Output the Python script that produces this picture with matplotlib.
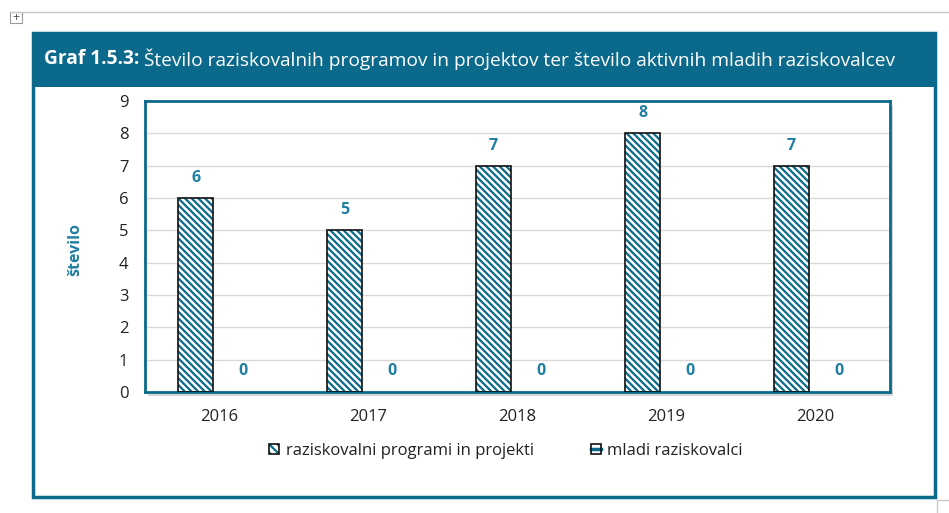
import matplotlib
matplotlib.use("Agg")
import matplotlib.pyplot as plt
from matplotlib.patches import Rectangle, Patch
from matplotlib.lines import Line2D
from matplotlib.legend_handler import HandlerTuple
import numpy as np

# data
years = ["2016", "2017", "2018", "2019", "2020"]
programi = [6, 5, 7, 8, 7]
mladi = [0, 0, 0, 0, 0]
labels = ["raziskovalni programi in projekti", "mladi raziskovalci"]

teal = "#0B6A8B"
lbl_col = "#1F7FA3"
plt.rcParams["font.family"] = ["Open Sans", "DejaVu Sans"]
plt.rcParams["hatch.linewidth"] = 1.6

W, H = 949, 513
fig = plt.figure(figsize=(W / 100, H / 100), dpi=100)

def fx(x): return x / W
def fy(y): return 1 - y / H

# page decorations
fig.add_artist(plt.Line2D([fx(10), fx(949)], [fy(12), fy(12)], color="#C8C8C8", lw=1))
fig.add_artist(Rectangle((fx(10), fy(23)), fx(12), 11 / H, fill=False, ec="#9A9A9A", lw=0.8))
fig.text(fx(16), fy(17), "+", ha="center", va="center", fontsize=9, color="#555555")
fig.add_artist(plt.Line2D([fx(937), fx(937)], [fy(500), fy(513)], color="#C8C8C8", lw=1))
fig.add_artist(plt.Line2D([fx(937), fx(949)], [fy(500), fy(500)], color="#C8C8C8", lw=1))

# outer frame and title band
fig.add_artist(Rectangle((fx(33), fy(497)), fx(902), 464 / H, fill=False, ec=teal, lw=2.5))
fig.add_artist(Rectangle((fx(33), fy(87)), fx(902), 54 / H, fc=teal, ec=teal, lw=0))
t1 = fig.text(fx(44), fy(59), "Graf 1.5.3:", color="white", fontsize=13.8,
              fontweight="bold", va="center", ha="left")
fig.canvas.draw()
bb = t1.get_window_extent()
fig.text(bb.x1 / W + fx(5), fy(59),
         "Število raziskovalnih programov in projektov ter število aktivnih mladih raziskovalcev",
         color="white", fontsize=13.8, va="center", ha="left")

# axes
x0, x1, ytop, ybot = 145, 890, 101, 392
# shadow
fig.add_artist(Rectangle((fx(x0 + 3), fy(ybot + 4)), fx(x1 - x0), (ybot - ytop) / H,
                         fc="#BBBBBB", ec="none", alpha=0.6, zorder=0))
ax = fig.add_axes([fx(x0), fy(ybot), fx(x1 - x0), (ybot - ytop) / H])
ax.set_facecolor("white")

x = np.arange(len(years))
w = 0.235
off = 0.16
ax.bar(x - off, programi, w, color="white", hatch="\\\\\\\\\\", edgecolor=teal, lw=0, zorder=2)
ax.bar(x - off, programi, w, fill=False, edgecolor="#111111", lw=1.2, zorder=3)
ax.bar(x + off, mladi, w, color="white", edgecolor="none", lw=0, zorder=3)

for xi, v in zip(x, programi):
    ax.text(xi - off, v + 0.62, str(v), ha="center", va="center", color=lbl_col,
            fontsize=11.5, fontweight="bold")
for xi, v in zip(x, mladi):
    ax.text(xi + off, v + 0.65, str(v), ha="center", va="center", color=lbl_col,
            fontsize=11.5, fontweight="bold")

ax.set_xlim(-0.5, len(years) - 0.5)
ax.set_ylim(0, 9)
ax.set_yticks(range(10))
ax.set_xticks(x)
ax.set_xticklabels(years)
ax.tick_params(axis="both", length=0, labelsize=12, colors="#222222")
ax.tick_params(axis="y", pad=12)
ax.tick_params(axis="x", pad=12)
ax.yaxis.grid(True, color="#D9D9D9", lw=1)
ax.set_axisbelow(True)
for s in ax.spines.values():
    s.set_color(teal)
    s.set_linewidth(2)

fig.text(fx(75), fy(250), "število", rotation=90, ha="center", va="center",
         color=lbl_col, fontsize=11.5, fontweight="bold")

# legend
h1 = (Patch(facecolor="white", hatch="\\\\\\\\", edgecolor=teal, lw=0),
      Patch(fill=False, edgecolor="#111111", lw=1.2))
h2 = (Patch(facecolor="white", edgecolor="none", lw=0),
      Line2D([], [], color=teal, lw=2.5),
      Patch(fill=False, edgecolor="#111111", lw=1.2))
leg = fig.legend([h1, h2], labels, loc="center", bbox_to_anchor=(fx(506), fy(451)),
                 ncol=2, frameon=False, fontsize=12, handlelength=0.6, handleheight=0.6,
                 handletextpad=0.4, columnspacing=3.4,
                 handler_map={tuple: HandlerTuple(ndivide=1, pad=0)})
for t in leg.get_texts():
    t.set_color("#222222")

fig.savefig("out.png", dpi=100)
